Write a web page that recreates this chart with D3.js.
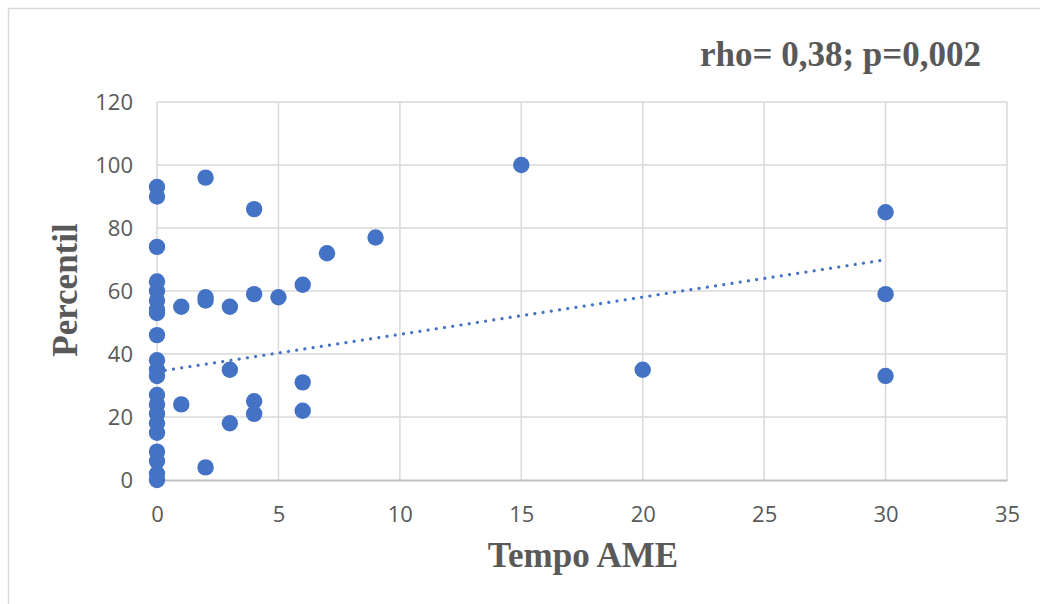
<!DOCTYPE html>
<html><head><meta charset="utf-8">
<script src="https://cdn.jsdelivr.net/npm/d3@7"></script>
<style>body{margin:0;background:#fff}svg{display:block}</style>
</head><body>
<svg id="c" width="1040" height="604"></svg>
<script>
// Data
const xValues = [0,0,0,0,0,0,0,0,0,0,0,0,0,0,0,0,0,0,0,0,0,
  1,1, 2,2,2,2, 3,3,3, 4,4,4,4, 5, 6,6,6, 7, 9, 15, 20, 30,30,30];
const yValues = [93,90,74,63,60,57,54,53,46,38,35,33,27,24,21,18,15,9,6,2,0,
  55,24, 96,58,57,4, 55,35,18, 86,59,25,21, 58, 62,31,22, 72, 77, 100, 35, 85,59,33];
const trendX = [0, 30];
const trendY = [34.4, 69.9];
const xTicks = [0,5,10,15,20,25,30,35];
const yTicks = [0,20,40,60,80,100,120];
const titleText = "rho= 0,38; p=0,002";
const xLabel = "Tempo AME";
const yLabel = "Percentil";

const svg = d3.select("#c");
const x = d3.scaleLinear().domain([0,35]).range([157,1007]);
const y = d3.scaleLinear().domain([0,120]).range([480,102]);

// chart border
svg.append("path").attr("d","M8.5,604 V8.5 H1040").attr("fill","none").attr("stroke","#d9d9d9").attr("stroke-width",1.5);

// gridlines
const grid = svg.append("g");
grid.selectAll("line.h").data(yTicks.filter(d=>d>0)).join("line")
  .attr("x1",x(0)).attr("x2",x(35)).attr("y1",d=>y(d)).attr("y2",d=>y(d))
  .attr("stroke","#d9d9d9").attr("stroke-width",1.5);
grid.selectAll("line.v").data(xTicks).join("line")
  .attr("y1",y(0)).attr("y2",y(120)).attr("x1",d=>x(d)).attr("x2",d=>x(d))
  .attr("stroke","#d9d9d9").attr("stroke-width",1.5);

const tickFont = "Open Sans, sans-serif";
// x axis
const xa = svg.append("g").attr("transform",`translate(0,${y(0)})`)
  .call(d3.axisBottom(x).tickValues(xTicks).tickSize(0).tickPadding(26));
xa.select(".domain").attr("stroke","#bfbfbf").attr("stroke-width",2);
xa.selectAll("text").attr("fill","#595959").attr("font-size",22).attr("font-family",tickFont);

const ya = svg.append("g").attr("transform",`translate(${x(0)},0)`)
  .call(d3.axisLeft(y).tickValues(yTicks).tickSize(0).tickPadding(24));
ya.select(".domain").remove();
ya.selectAll("text").attr("fill","#595959").attr("font-size",22).attr("font-family",tickFont);

// points
const pts = xValues.map((v,i)=>({x:v,y:yValues[i]}));
svg.append("g").selectAll("circle").data(pts).join("circle")
  .attr("cx",d=>x(d.x)).attr("cy",d=>y(d.y)).attr("r",8.2).attr("fill","#4472c4");

// trendline
svg.append("path").datum(trendX.map((v,i)=>[v,trendY[i]]))
  .attr("d",d3.line().x(d=>x(d[0])).y(d=>y(d[1])))
  .attr("fill","none").attr("stroke","#4472c4").attr("stroke-width",3.2)
  .attr("stroke-linecap","round").attr("stroke-dasharray","0.01 8.3");

// titles
const serif = "Liberation Serif, Times New Roman, serif";
svg.append("text").attr("x",981).attr("y",66).attr("text-anchor","end")
  .attr("font-family",serif).attr("font-weight","bold").attr("font-size",35).attr("fill","#595959")
  .text(titleText);
svg.append("text").attr("x",583).attr("y",567).attr("text-anchor","middle")
  .attr("font-family",serif).attr("font-weight","bold").attr("font-size",35).attr("fill","#595959")
  .text(xLabel);
svg.append("text").attr("transform","translate(77,290) rotate(-90)").attr("text-anchor","middle")
  .attr("font-family",serif).attr("font-weight","bold").attr("font-size",35).attr("fill","#595959")
  .text(yLabel);
</script>
</body></html>
